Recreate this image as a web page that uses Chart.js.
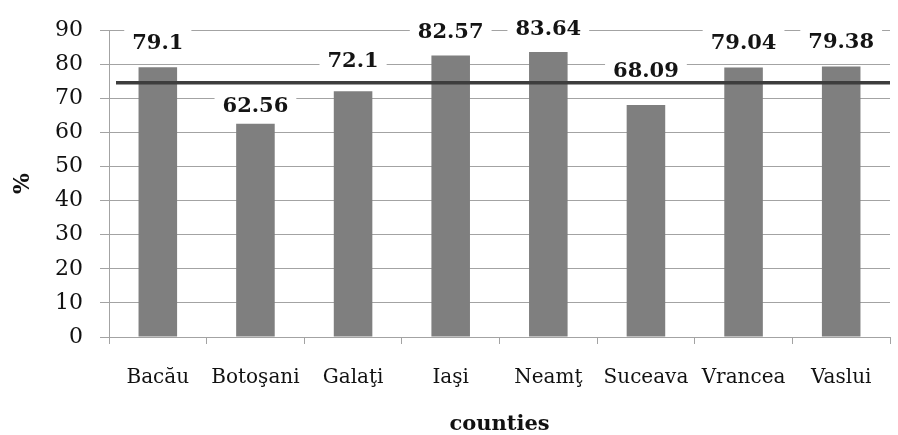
<!DOCTYPE html>
<html>
<head>
<meta charset="utf-8">
<script src="https://cdn.jsdelivr.net/npm/chart.js@4/dist/chart.umd.min.js"></script>
<style>
  html, body { margin: 0; padding: 0; background: #ffffff; }
  #wrap { width: 898px; height: 435px; }
</style>
</head>
<body>
<div id="wrap"><canvas id="c"></canvas></div>
<script>
// Share (%) per county, with the regional average drawn as a reference line
const counties = ['Bacău', 'Botoşani', 'Galaţi', 'Iaşi', 'Neamţ', 'Suceava', 'Vrancea', 'Vaslui'];
const shares = [79.1, 62.56, 72.1, 82.57, 83.64, 68.09, 79.04, 79.38];
const regionAverage = [74.6];
const yTickValues = [0, 10, 20, 30, 40, 50, 60, 70, 80, 90];

const SERIF = '"DejaVu Serif", "Liberation Serif", serif';
const GRID = '#a3a3a3';

// Value labels on white plates above each bar, then the average line on top
const barAnnotations = {
  id: 'barAnnotations',
  afterDatasetsDraw(chart, args, opts) {
    const ctx = chart.ctx;
    const meta = chart.getDatasetMeta(0);
    const values = chart.data.datasets[0].data;
    ctx.save();
    ctx.font = 'bold 21px ' + SERIF;
    ctx.textAlign = 'center';
    ctx.textBaseline = 'alphabetic';
    meta.data.forEach((bar, i) => {
      const text = String(values[i]);
      const cy = bar.y - opts.lift[i];
      const w = ctx.measureText(text).width;
      ctx.fillStyle = '#ffffff';
      ctx.fillRect(bar.x - w / 2 - 8, cy - 15, w + 16, 29);
      ctx.fillStyle = '#141414';
      ctx.fillText(text, bar.x, cy + 7.6);
    });

    const area = chart.chartArea;
    const y = chart.scales.y.getPixelForValue(regionAverage[0]);
    ctx.beginPath();
    ctx.moveTo(area.left + 7, y);
    ctx.lineTo(area.right, y);
    ctx.lineWidth = 3.5;
    ctx.strokeStyle = '#3d3d3d';
    ctx.stroke();
    ctx.restore();
  }
};

new Chart(document.getElementById('c'), {
  type: 'bar',
  data: {
    labels: counties,
    datasets: [{
      data: shares,
      backgroundColor: '#7f7f7f',
      borderWidth: 0,
      categoryPercentage: 1,
      barPercentage: 0.395
    }]
  },
  options: {
    responsive: true,
    maintainAspectRatio: false,
    animation: false,
    events: [],
    layout: { padding: { top: 28, right: 8, left: 0, bottom: 0 } },
    plugins: {
      legend: { display: false },
      tooltip: { enabled: false },
      barAnnotations: { lift: [26, 19, 32, 25, 24, 35, 26, 26] }
    },
    scales: {
      x: {
        grid: { display: true, drawOnChartArea: false, drawTicks: true, tickLength: 7, color: GRID, offset: true },
        border: { display: true, color: GRID, width: 1 },
        ticks: { color: '#111', font: { family: SERIF, size: 20 }, padding: 22, maxRotation: 0, autoSkip: false },
        title: { display: true, text: 'counties', color: '#111', font: { family: SERIF, size: 21, weight: 'bold', lineHeight: 1 }, padding: { top: 0, bottom: 0 } },
        afterFit(scale) { scale.height = 98; }
      },
      y: {
        min: 0,
        max: 90,
        afterBuildTicks(scale) { scale.ticks = yTickValues.map(v => ({ value: v })); },
        grid: { color: GRID, lineWidth: 1, drawTicks: true, tickLength: 9 },
        border: { display: true, color: GRID, width: 1 },
        ticks: { color: '#111', font: { family: SERIF, size: 22 }, padding: 17 },
        title: { display: true, text: '%', color: '#111', font: { family: SERIF, size: 22, weight: 'bold', lineHeight: 1 }, padding: { top: 12, bottom: 0 } },
        afterFit(scale) { scale.width = 109; }
      }
    }
  },
  plugins: [barAnnotations]
});
</script>
</body>
</html>
